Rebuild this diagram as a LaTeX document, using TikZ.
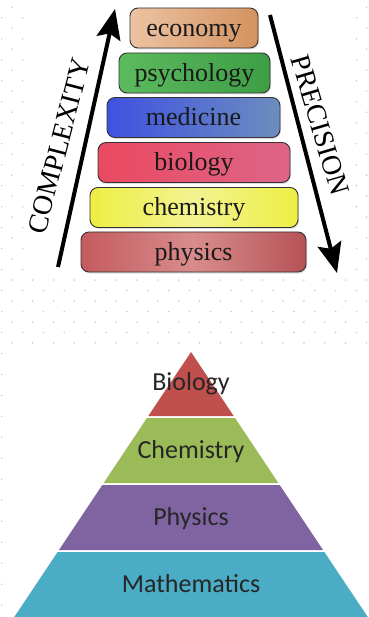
\documentclass[tikz,border=0pt]{standalone}
\usepackage{fontspec}
\setmainfont{Liberation Serif}
\newfontfamily\carlito{Carlito}
\usepackage{tikz}
\usetikzlibrary{arrows.meta, positioning, calc, shapes, shadows}

\definecolor{econL}{HTML}{ECC3A4}
\definecolor{econR}{HTML}{D4925E}
\definecolor{psyL}{HTML}{5CBA5E}
\definecolor{psyR}{HTML}{3E9E45}
\definecolor{medL}{HTML}{3F51E0}
\definecolor{medR}{HTML}{6C8DBF}
\definecolor{bioL}{HTML}{EA4A60}
\definecolor{bioR}{HTML}{DE6488}
\definecolor{chemL}{HTML}{EEEE44}
\definecolor{chemM}{HTML}{F3F390}
\definecolor{physL}{HTML}{C45A5E}
\definecolor{physM}{HTML}{D98C8C}
\definecolor{physR}{HTML}{B65256}
\definecolor{tierA}{HTML}{C0504D}
\definecolor{tierB}{HTML}{9BBB59}
\definecolor{tierC}{HTML}{8064A2}
\definecolor{tierD}{HTML}{4BACC6}

\begin{document}
\begin{tikzpicture}[x=1pt, y=-1pt,
    box/.style={draw=black!80, line width=0.9pt, rounded corners=8pt, inner sep=0pt,
        minimum height=40pt, text height=20pt, text depth=3pt, text=black!90,
        font=\fontsize{26}{28}\selectfont,
        drop shadow={shadow xshift=1pt, shadow yshift=-1.5pt, opacity=0.25}},
    tier/.style={anchor=base, font=\carlito\fontsize{26}{28}\selectfont, text=black!85},
    bigarrow/.style={line width=4pt, -{Stealth[length=30pt, width=24pt, inset=5pt]}},
    side/.style={font=\fontsize{28}{30}\selectfont}]
    \useasboundingbox (0,0) rectangle (368,617);

    % dotted paper
    \begin{scope}
        \clip (0,0) rectangle (25,275) (348,0) rectangle (368,275)
              (0,272) rectangle (368,346) (0,346) rectangle (6,617);
        \foreach \r in {0,...,58} {
            \pgfmathsetmacro\dy{7.3+10.49*\r}
            \pgfmathsetmacro\dx{mod(\r,2)==0 ? 11.7 : 1.7}
            \foreach \c in {0,...,17}
                \fill[black!20] ({\dx+20.87*\c},\dy) circle (0.9);
        }
    \end{scope}

    % stack of sciences
    \node[box, minimum width=128pt, left color=econL, right color=econR] (econ) at (194,28) {economy};
    \node[box, minimum width=151pt, left color=psyL, right color=psyR] (psych) at (194.5,73) {psychology};
    \node[box, minimum width=173pt, left color=medL, right color=medR] (med) at (193.5,117.5) {medicine};
    \node[box, minimum width=192pt, left color=bioL, right color=bioR] (bio) at (194,162.5) {biology};
    \node[box, minimum width=208pt, left color=chemL, right color=chemL, middle color=chemM] (chem) at (194,207.5) {chemistry};
    \node[box, minimum width=225pt, left color=physL, right color=physR, middle color=physM] (phys) at (193.5,252) {physics};

    \coordinate (cxlo) at (58,267);
    \coordinate (cxhi) at (115,9);
    \coordinate (prhi) at (270,15);
    \coordinate (prlo) at (337,273);
    \draw[bigarrow] (cxlo) -- (cxhi);
    \draw[bigarrow] (prhi) -- (prlo);
    \node[side, rotate=75.5] (cplx) at (59,146) {COMPLEXITY};
    \node[side, rotate=-73.5] (prec) at (320,125) {PRECISION};

    % pyramid
    \foreach \a/\b/\c/\t/\base in {352/416/tierA/Biology/390, 418/483/tierB/Chemistry/458,
                                   485/550/tierC/Physics/525, 552/617/tierD/Mathematics/592} {
        \fill[\c] ({191-(\a-352)*0.667},\a) -- ({191+(\a-352)*0.667},\a)
            -- ({191+(\b-352)*0.667},\b) -- ({191-(\b-352)*0.667},\b) -- cycle;
        \node[tier] (\t) at (191,\base) {\t};
    }
\end{tikzpicture}
\end{document}
